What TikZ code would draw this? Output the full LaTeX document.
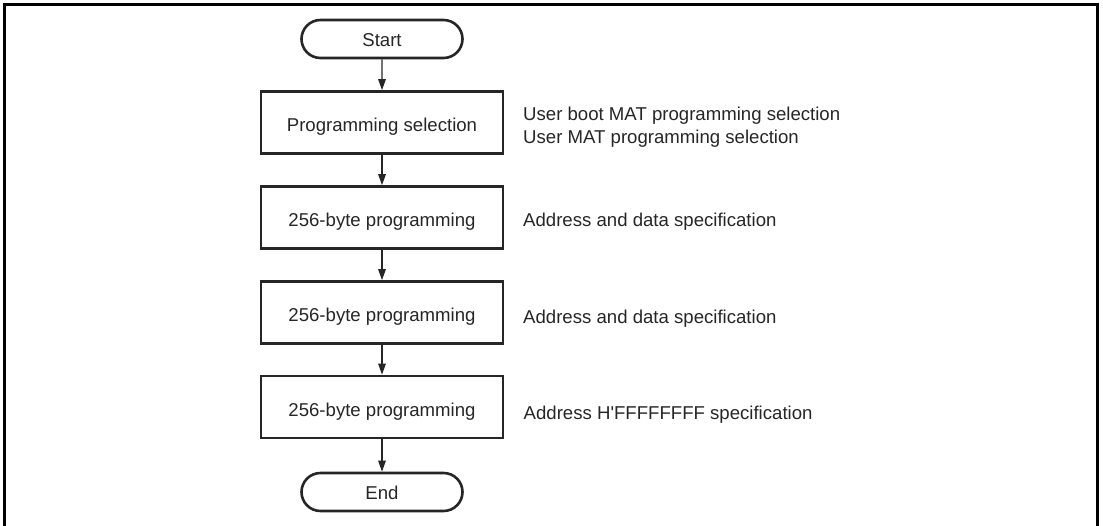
\documentclass[tikz,border=0pt]{standalone}
\usepackage{fontspec}
\setmainfont{Liberation Sans}
\newfontfamily\arialf{Liberation Sans}
\usetikzlibrary{arrows.meta,shapes.misc}
\begin{document}
\begin{tikzpicture}[x=1pt,y=-1pt,
  every node/.style={font=\arialf\fontsize{18.6}{22}\selectfont, text=black!85},
  stepbox/.style={draw=black!85, line width=2.6pt, minimum width=242pt, minimum height=62pt, inner sep=0pt, text height=18.3pt, text depth=0pt},
  termbox/.style={draw=black!85, line width=2.6pt, rounded rectangle, minimum width=161pt, minimum height=38pt, inner sep=0pt, text height=15.6pt, text depth=0pt},
  note/.style={anchor=west, align=left, inner sep=0pt},
  flow/.style={draw=black!85, line width=1.4pt, -{Triangle[length=11pt,width=7.5pt]}}]
\useasboundingbox (0,0) rectangle (1103,526);
\draw[line width=3pt] (4.5,540) -- (4.5,4.5) -- (1097.5,4.5) -- (1097.5,540);
\node[termbox] (start) at (382,39) {Start};
\node[stepbox] (sel) at (382,122.5) {Programming selection};
\node[stepbox] (p1) at (382,217.5) {256-byte programming};
\node[stepbox] (p2) at (382,312.5) {256-byte programming};
\node[stepbox] (p3) at (382,407) {256-byte programming};
\node[termbox] (end) at (382,492) {End};
\draw[flow] (start) -- (sel);
\draw[flow] (sel) -- (p1);
\draw[flow] (p1) -- (p2);
\draw[flow] (p2) -- (p3);
\draw[flow] (p3) -- (end);
\node[note] (n1) at (523,116) {User boot MAT programming selection};
\node[note] (n2) at (523,138.5) {User MAT programming selection};
\node[note] (n3) at (523,221.5) {Address and data specification};
\node[note] (n4) at (523,318.5) {Address and data specification};
\node[note] (n5) at (523.5,414.5) {Address H'FFFFFFFF specification};
\end{tikzpicture}
\end{document}
